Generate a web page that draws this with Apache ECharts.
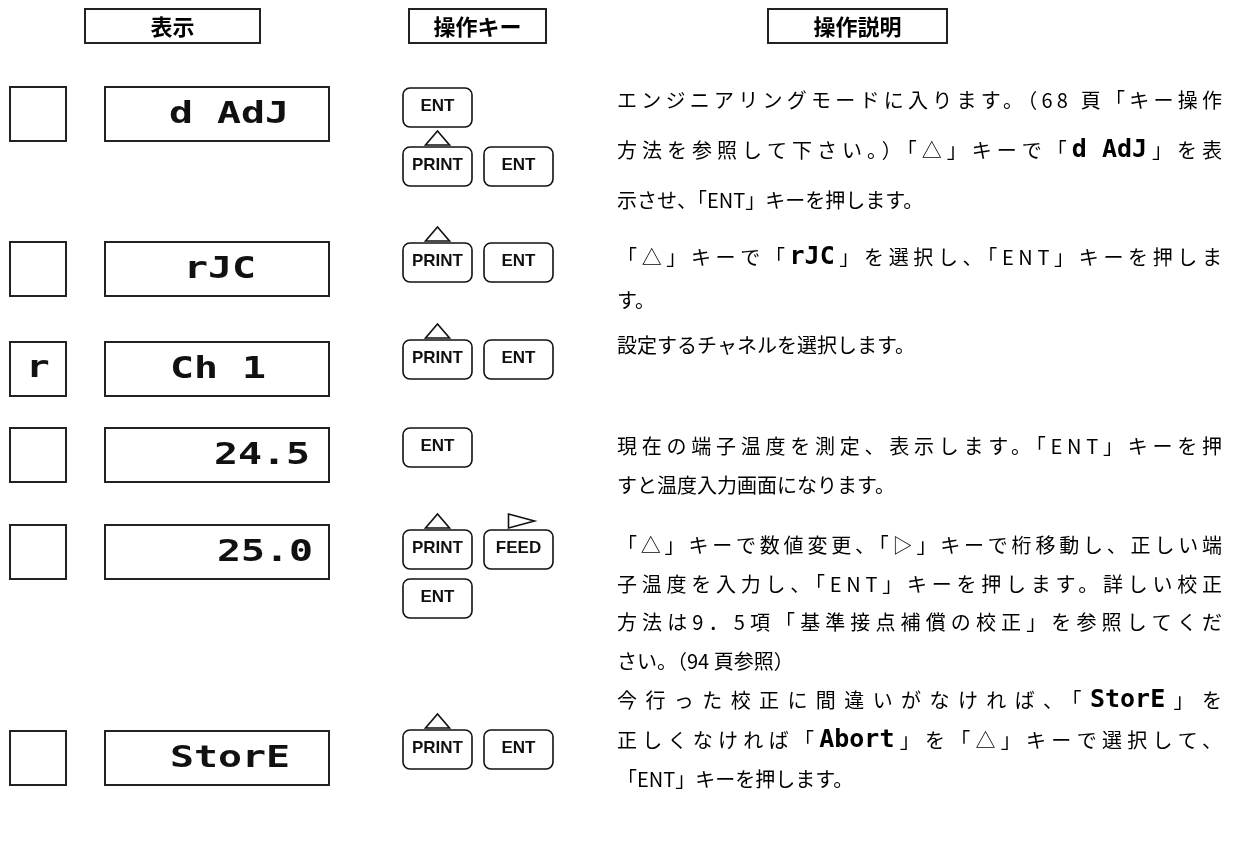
<!DOCTYPE html>
<html><head><meta charset="utf-8">
<script src="https://cdn.jsdelivr.net/npm/echarts@6/dist/echarts.min.js"></script>
<style>html,body{margin:0;padding:0;background:#fff}#c{width:1233px;height:845px}</style>
</head><body><div id="c"></div>
<script>
// ---------- data ----------
const headers = ['表示', '操作キー', '操作説明'];
const indicators = ['', '', 'r', '', '', ''];
const displays = ['d AdJ', 'rJC', 'Ch 1', '24.5', '25.0', 'StorE'];
// key lines per step: [label, arrow above]
const keyRows = [
  [[['ENT', '']], [['PRINT', 'up'], ['ENT', '']]],
  [[['PRINT', 'up'], ['ENT', '']]],
  [[['PRINT', 'up'], ['ENT', '']]],
  [[['ENT', '']]],
  [[['PRINT', 'up'], ['FEED', 'right']], [['ENT', '']]],
  [[['PRINT', 'up'], ['ENT', '']]]
];
const descLines = [
  'エンジニアリングモードに入ります。（68 頁「キー操作',
  '方法を参照して下さい。）「△」キーで「{seg|d AdJ}」を表',
  '示させ、「ENT」キーを押します。',
  '「△」キーで「{seg|rJC}」を選択し、「ENT」キーを押しま',
  'す。',
  '設定するチャネルを選択します。',
  '現在の端子温度を測定、表示します。「ENT」キーを押',
  'すと温度入力画面になります。',
  '「△」キーで数値変更、「▷」キーで桁移動し、正しい端',
  '子温度を入力し、「ENT」キーを押します。詳しい校正',
  '方法は9．5項「基準接点補償の校正」を参照してくだ',
  'さい。（94 頁参照）',
  '今行った校正に間違いがなければ、「{seg|StorE}」を',
  '正しくなければ「{seg|Abort}」を「△」キーで選択して、',
  '「ENT」キーを押します。'
];
const justified = [1,1,0,1,0,0,1,0,1,1,1,0,1,1,0];

// ---------- layout ----------
const L = {
  headerBoxes: [[85, 260], [409, 546], [768, 947]], headerTop: 9, headerH: 34,
  rowTops: [87, 242, 342, 428, 525, 731], rowH: 54,
  indX: 10, indW: 56, dispX: 105, dispW: 224,
  dispCenters: [229, 220, 218, 262, 265, 230],
  keyLineTops: [[88, 147], [243], [340], [428], [530, 579], [730]],
  keyXs: [403, 484], keyW: 69, keyH: 39,
  textX: 617, textRight: 1222,
  lineYs: [100, 150, 200, 257, 300, 345, 446, 485, 545, 584, 622, 661, 700, 740, 779]
};
const JP = '"Noto Sans CJK JP", "Noto Sans CJK SC", sans-serif';
const SEGF = '"DejaVu Sans Mono", "Liberation Mono", monospace';
const BODY_SIZE = 20, SEG_SIZE = 25;
const INK = '#111';

// justified (distributed) lines: letter spacing applied only while that text is painted
const spacingMap = new Map();
(function () {
  const proto = CanvasRenderingContext2D.prototype;
  const orig = proto.fillText;
  proto.fillText = function (t) {
    const f = this.font;
    const s = spacingMap.get(t) || 0;
    const want = s + 'px';
    if ('letterSpacing' in this && this.letterSpacing !== want) {
      this.letterSpacing = want;
      this.font = '10px serif';
      this.font = f;
    }
    return orig.apply(this, arguments);
  };
})();

const els = [];
// headers
headers.forEach((h, i) => {
  const [x0, x1] = L.headerBoxes[i];
  els.push({type: 'rect', shape: {x: x0, y: L.headerTop, width: x1 - x0, height: L.headerH},
    style: {fill: '#fff', stroke: '#222', lineWidth: 2}});
  els.push({type: 'text', x: (x0 + x1) / 2, y: L.headerTop + L.headerH / 2 + 1,
    style: {text: h, fontFamily: JP, fontWeight: 'bold', fontSize: 22, fill: '#000', align: 'center', verticalAlign: 'middle'}});
});
// display rows
displays.forEach((d, i) => {
  const top = L.rowTops[i], cy = top + L.rowH / 2;
  els.push({type: 'rect', shape: {x: L.indX, y: top, width: L.indW, height: L.rowH},
    style: {fill: '#fff', stroke: '#222', lineWidth: 2}});
  els.push({type: 'rect', shape: {x: L.dispX, y: top, width: L.dispW, height: L.rowH},
    style: {fill: '#fff', stroke: '#222', lineWidth: 2}});
  if (indicators[i]) {
    els.push({type: 'text', x: L.indX + L.indW / 2, y: cy, scaleX: 1.3,
      style: {text: indicators[i], fontFamily: SEGF, fontWeight: 'bold', fontSize: 30, fill: INK, align: 'center', verticalAlign: 'middle'}});
  }
  els.push({type: 'text', x: L.dispCenters[i], y: cy + 1, scaleX: 1.33,
    style: {text: d, fontFamily: SEGF, fontWeight: 'bold', fontSize: 30, fill: INK, align: 'center', verticalAlign: 'middle'}});
});
// keys
keyRows.forEach((row, i) => {
  row.forEach((line, j) => {
    const top = L.keyLineTops[i][j];
    line.forEach(([label, arrow], k) => {
      const x = L.keyXs[k], cx = x + L.keyW / 2;
      els.push({type: 'rect', shape: {x: x, y: top, width: L.keyW, height: L.keyH, r: 7},
        style: {fill: '#fff', stroke: INK, lineWidth: 1.6}});
      els.push({type: 'text', x: cx, y: top + L.keyH / 2 - 1,
        style: {text: label, fontFamily: '"Liberation Sans", Arial, sans-serif', fontWeight: 'bold', fontSize: 17, fill: INK, align: 'center', verticalAlign: 'middle'}});
      if (arrow === 'up') {
        els.push({type: 'polygon', shape: {points: [[cx - 12, top - 2], [cx + 12, top - 2], [cx, top - 16]]},
          style: {fill: 'none', stroke: INK, lineWidth: 1.6}});
      } else if (arrow === 'right') {
        els.push({type: 'polygon', shape: {points: [[cx - 10, top - 16], [cx - 10, top - 2], [cx + 16, top - 9]]},
          style: {fill: 'none', stroke: INK, lineWidth: 1.6}});
      }
    });
  });
});
// description text
const mctx = document.createElement('canvas').getContext('2d');
const BODY_FONT = 'normal ' + BODY_SIZE + 'px ' + JP;
const SEG_FONT = 'bold ' + SEG_SIZE + 'px ' + SEGF;
function tokens(line) {
  const out = []; let last = 0, m;
  const re = /\{seg\|([^}]*)\}/g;
  while ((m = re.exec(line))) {
    if (m.index > last) out.push({t: line.slice(last, m.index), seg: false});
    out.push({t: m[1], seg: true});
    last = re.lastIndex;
  }
  if (last < line.length) out.push({t: line.slice(last), seg: false});
  return out;
}
descLines.forEach((line, i) => {
  const toks = tokens(line);
  let W = 0, units = 0;
  toks.forEach(tk => {
    mctx.font = tk.seg ? SEG_FONT : BODY_FONT;
    tk.w = mctx.measureText(tk.t).width;
    W += tk.w;
    units += tk.seg ? 1 : Array.from(tk.t).length;
  });
  let s = 0;
  if (justified[i] && units > 1) s = Math.max(0, (L.textRight - L.textX - W) / (units - 1));
  let x = L.textX;
  toks.forEach(tk => {
    const st = tk.seg
      ? {text: tk.t, fontFamily: SEGF, fontWeight: 'bold', fontSize: SEG_SIZE}
      : {text: tk.t, fontFamily: JP, fontWeight: 'normal', fontSize: BODY_SIZE};
    els.push({type: 'text', x: x, y: L.lineYs[i],
      style: Object.assign(st, {fill: '#000', align: 'left', verticalAlign: 'middle'})});
    if (tk.seg) {
      x += tk.w + s;
    } else {
      if (s > 0) spacingMap.set(tk.t, s);
      x += tk.w + Array.from(tk.t).length * s;
    }
  });
});

const chart = echarts.init(document.getElementById('c'), null, {renderer: 'canvas', width: 1233, height: 845});
chart.setOption({backgroundColor: '#fff', animation: false, graphic: {elements: els}});
</script>
</body></html>
